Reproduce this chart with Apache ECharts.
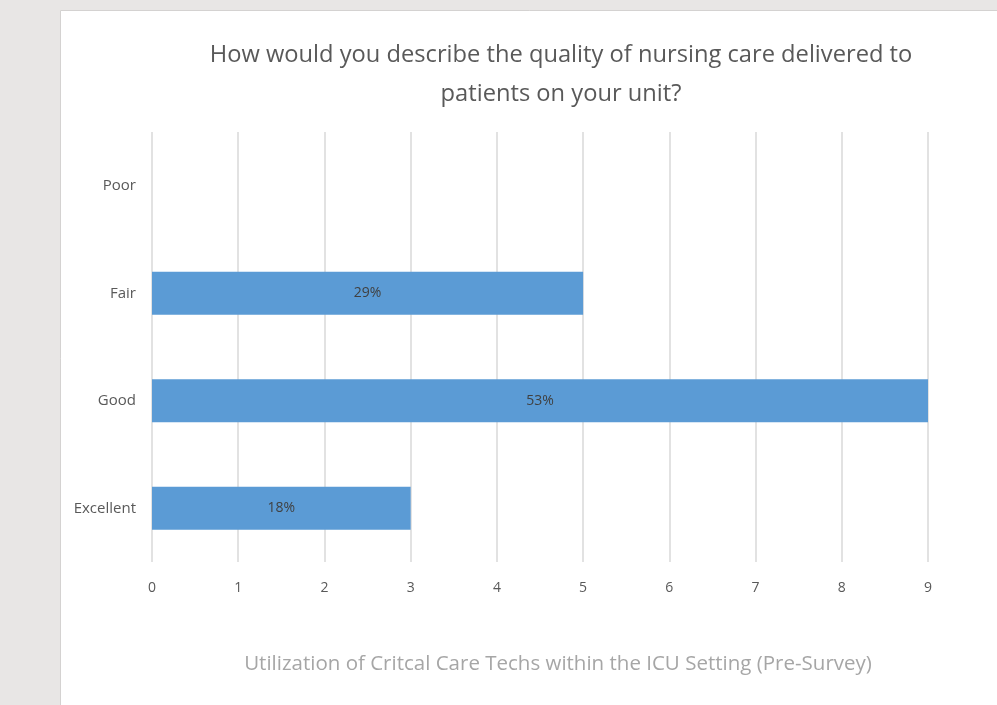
<!DOCTYPE html>
<html><head><meta charset="utf-8">
<script src="https://cdn.jsdelivr.net/npm/echarts@6/dist/echarts.min.js"></script>
<style>html,body{margin:0;padding:0;background:#e8e6e5;}#c{width:997px;height:705px;}</style>
</head><body><div id="c"></div>
<script>
var categories = ['Excellent', 'Good', 'Fair', 'Poor'];
var counts = [3, 9, 5, 0];
var percentLabels = ['18%', '53%', '29%', ''];
var xTicks = [0, 1, 2, 3, 4, 5, 6, 7, 8, 9];
var titleText = 'How would you describe the quality of nursing care delivered to\npatients on your unit?';
var xAxisTitle = 'Utilization of Critcal Care Techs within the ICU Setting (Pre-Survey)';

var chart = echarts.init(document.getElementById('c'));
var FONT = '"Open Sans", "Noto Sans", sans-serif';
chart.setOption({
  backgroundColor: 'transparent',
  textStyle: {fontFamily: FONT},
  graphic: [{
    type: 'rect', left: 60, top: 10, z: -10,
    shape: {width: 940, height: 700},
    style: {fill: '#ffffff', stroke: '#d4d2d1', lineWidth: 1}
  }],
  title: {
    text: titleText, left: 556, top: 31, textAlign: 'center',
    textStyle: {fontFamily: FONT, fontSize: 23.7, fontWeight: 'normal', color: '#595959', lineHeight: 39}
  },
  grid: {left: 152, right: 69, top: 132, bottom: 143, containLabel: false},
  xAxis: {
    type: 'value', min: 0, max: 9, interval: 1,
    name: xAxisTitle, nameLocation: 'middle', nameGap: 92,
    nameTextStyle: {fontFamily: FONT, fontSize: 20.5, color: '#a6a6a6', padding: [0, 0, 0, 36]},
    axisLine: {show: false}, axisTick: {show: false},
    axisLabel: {color: '#595959', fontSize: 14, margin: 19, formatter: function (v) { return xTicks.indexOf(v) >= 0 ? String(v) : ''; }},
    splitLine: {show: true, lineStyle: {color: '#d9d9d9', width: 1.5}}
  },
  yAxis: {
    type: 'category', data: categories,
    axisLine: {show: false}, axisTick: {show: false},
    axisLabel: {color: '#595959', fontSize: 15, margin: 16}
  },
  series: [{
    type: 'bar', data: counts, barCategoryGap: '60%',
    itemStyle: {color: '#5b9bd5'},
    label: {show: true, position: 'inside', color: '#404040', fontSize: 14, fontFamily: FONT,
      formatter: function (p) { return percentLabels[p.dataIndex]; }}
  }]
});
</script></body></html>
